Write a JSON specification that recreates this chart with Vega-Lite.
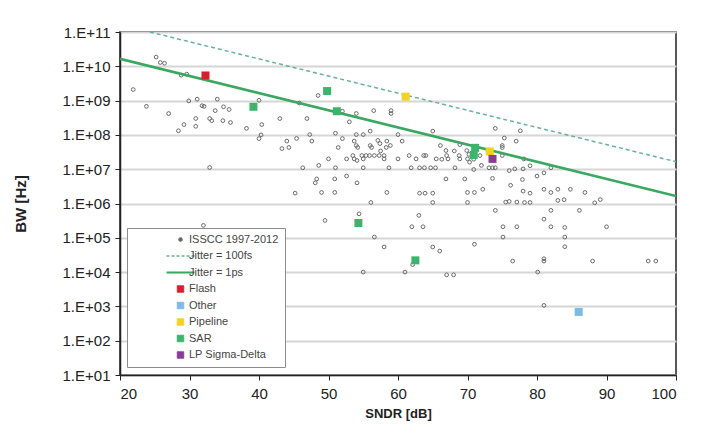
{
  "$schema": "https://vega.github.io/schema/vega-lite/v6.json",
  "width": 556,
  "height": 343,
  "autosize": {"type": "none"},
  "padding": {"left": 120, "top": 32, "right": 32, "bottom": 56},
  "background": "#ffffff",
  "config": {
    "font": "Liberation Sans",
    "view": {"stroke": "#222222", "strokeWidth": 1.5},
    "axis": {"labelFont": "Liberation Sans", "titleFont": "Liberation Sans", "labelColor": "#222222", "titleColor": "#222222", "domainColor": "#222222", "tickColor": "#222222", "domainWidth": 1.5}
  },
  "data": {"values": [
    {"x": 25.2, "y": 1.86e10, "s": "ISSCC 1997-2012"},
    {"x": 25.8, "y": 1.29e10, "s": "ISSCC 1997-2012"},
    {"x": 26.4, "y": 1.23e10, "s": "ISSCC 1997-2012"},
    {"x": 28.8, "y": 5.5e9, "s": "ISSCC 1997-2012"},
    {"x": 29.6, "y": 5.9e9, "s": "ISSCC 1997-2012"},
    {"x": 21.9, "y": 2.1e9, "s": "ISSCC 1997-2012"},
    {"x": 23.8, "y": 6.8e8, "s": "ISSCC 1997-2012"},
    {"x": 27.0, "y": 4.2e8, "s": "ISSCC 1997-2012"},
    {"x": 28.4, "y": 1.32e8, "s": "ISSCC 1997-2012"},
    {"x": 29.2, "y": 2.0e8, "s": "ISSCC 1997-2012"},
    {"x": 29.9, "y": 9.8e8, "s": "ISSCC 1997-2012"},
    {"x": 31.1, "y": 1.1e9, "s": "ISSCC 1997-2012"},
    {"x": 31.8, "y": 7.1e8, "s": "ISSCC 1997-2012"},
    {"x": 32.1, "y": 6.8e8, "s": "ISSCC 1997-2012"},
    {"x": 30.9, "y": 3.0e8, "s": "ISSCC 1997-2012"},
    {"x": 30.9, "y": 1.78e8, "s": "ISSCC 1997-2012"},
    {"x": 32.9, "y": 3.0e8, "s": "ISSCC 1997-2012"},
    {"x": 33.2, "y": 2.6e8, "s": "ISSCC 1997-2012"},
    {"x": 33.7, "y": 5.1e8, "s": "ISSCC 1997-2012"},
    {"x": 34.0, "y": 1.1e9, "s": "ISSCC 1997-2012"},
    {"x": 34.9, "y": 6.6e8, "s": "ISSCC 1997-2012"},
    {"x": 35.7, "y": 5.5e8, "s": "ISSCC 1997-2012"},
    {"x": 34.8, "y": 2.6e8, "s": "ISSCC 1997-2012"},
    {"x": 35.9, "y": 2.3e8, "s": "ISSCC 1997-2012"},
    {"x": 38.2, "y": 1.55e8, "s": "ISSCC 1997-2012"},
    {"x": 40.0, "y": 1.02e9, "s": "ISSCC 1997-2012"},
    {"x": 40.4, "y": 2.0e8, "s": "ISSCC 1997-2012"},
    {"x": 40.3, "y": 1.0e8, "s": "ISSCC 1997-2012"},
    {"x": 40.0, "y": 7.8e7, "s": "ISSCC 1997-2012"},
    {"x": 43.0, "y": 3.0e8, "s": "ISSCC 1997-2012"},
    {"x": 44.0, "y": 6.6e7, "s": "ISSCC 1997-2012"},
    {"x": 43.3, "y": 4.0e7, "s": "ISSCC 1997-2012"},
    {"x": 44.3, "y": 4.3e7, "s": "ISSCC 1997-2012"},
    {"x": 45.4, "y": 7.9e7, "s": "ISSCC 1997-2012"},
    {"x": 46.9, "y": 3.0e8, "s": "ISSCC 1997-2012"},
    {"x": 45.8, "y": 8.5e8, "s": "ISSCC 1997-2012"},
    {"x": 32.9, "y": 1.12e7, "s": "ISSCC 1997-2012"},
    {"x": 46.3, "y": 1.1e7, "s": "ISSCC 1997-2012"},
    {"x": 45.2, "y": 2.0e6, "s": "ISSCC 1997-2012"},
    {"x": 48.5, "y": 1.41e9, "s": "ISSCC 1997-2012"},
    {"x": 52.0, "y": 4.9e8, "s": "ISSCC 1997-2012"},
    {"x": 54.0, "y": 4.2e8, "s": "ISSCC 1997-2012"},
    {"x": 56.5, "y": 5.1e8, "s": "ISSCC 1997-2012"},
    {"x": 59.0, "y": 5.1e8, "s": "ISSCC 1997-2012"},
    {"x": 59.0, "y": 4.2e8, "s": "ISSCC 1997-2012"},
    {"x": 53.0, "y": 2.4e8, "s": "ISSCC 1997-2012"},
    {"x": 47.3, "y": 1.02e8, "s": "ISSCC 1997-2012"},
    {"x": 47.6, "y": 6.6e7, "s": "ISSCC 1997-2012"},
    {"x": 51.0, "y": 1.12e8, "s": "ISSCC 1997-2012"},
    {"x": 52.0, "y": 7.8e7, "s": "ISSCC 1997-2012"},
    {"x": 54.0, "y": 1.02e8, "s": "ISSCC 1997-2012"},
    {"x": 55.0, "y": 1.02e8, "s": "ISSCC 1997-2012"},
    {"x": 56.0, "y": 1.29e8, "s": "ISSCC 1997-2012"},
    {"x": 53.7, "y": 6.6e7, "s": "ISSCC 1997-2012"},
    {"x": 54.0, "y": 4.9e7, "s": "ISSCC 1997-2012"},
    {"x": 54.2, "y": 4.3e7, "s": "ISSCC 1997-2012"},
    {"x": 56.0, "y": 4.9e7, "s": "ISSCC 1997-2012"},
    {"x": 56.2, "y": 4.3e7, "s": "ISSCC 1997-2012"},
    {"x": 57.1, "y": 6.9e7, "s": "ISSCC 1997-2012"},
    {"x": 57.4, "y": 5.6e7, "s": "ISSCC 1997-2012"},
    {"x": 58.4, "y": 6.6e7, "s": "ISSCC 1997-2012"},
    {"x": 58.9, "y": 4.9e7, "s": "ISSCC 1997-2012"},
    {"x": 57.5, "y": 3.4e7, "s": "ISSCC 1997-2012"},
    {"x": 58.3, "y": 4.3e7, "s": "ISSCC 1997-2012"},
    {"x": 60.0, "y": 1.02e8, "s": "ISSCC 1997-2012"},
    {"x": 60.6, "y": 6.6e7, "s": "ISSCC 1997-2012"},
    {"x": 65.0, "y": 1.29e8, "s": "ISSCC 1997-2012"},
    {"x": 51.4, "y": 4.3e7, "s": "ISSCC 1997-2012"},
    {"x": 50.0, "y": 2.0e7, "s": "ISSCC 1997-2012"},
    {"x": 52.6, "y": 2.0e7, "s": "ISSCC 1997-2012"},
    {"x": 53.5, "y": 2.5e7, "s": "ISSCC 1997-2012"},
    {"x": 53.7, "y": 2.0e7, "s": "ISSCC 1997-2012"},
    {"x": 54.1, "y": 1.8e7, "s": "ISSCC 1997-2012"},
    {"x": 54.8, "y": 2.5e7, "s": "ISSCC 1997-2012"},
    {"x": 55.0, "y": 2.0e7, "s": "ISSCC 1997-2012"},
    {"x": 55.4, "y": 2.5e7, "s": "ISSCC 1997-2012"},
    {"x": 55.9, "y": 2.5e7, "s": "ISSCC 1997-2012"},
    {"x": 56.6, "y": 2.5e7, "s": "ISSCC 1997-2012"},
    {"x": 57.3, "y": 2.5e7, "s": "ISSCC 1997-2012"},
    {"x": 58.0, "y": 2.5e7, "s": "ISSCC 1997-2012"},
    {"x": 58.0, "y": 2.0e7, "s": "ISSCC 1997-2012"},
    {"x": 60.0, "y": 2.0e7, "s": "ISSCC 1997-2012"},
    {"x": 48.6, "y": 1.29e7, "s": "ISSCC 1997-2012"},
    {"x": 51.0, "y": 1.1e7, "s": "ISSCC 1997-2012"},
    {"x": 55.0, "y": 1.1e7, "s": "ISSCC 1997-2012"},
    {"x": 58.7, "y": 1.1e7, "s": "ISSCC 1997-2012"},
    {"x": 61.6, "y": 2.5e7, "s": "ISSCC 1997-2012"},
    {"x": 61.9, "y": 1.1e7, "s": "ISSCC 1997-2012"},
    {"x": 62.6, "y": 2.0e7, "s": "ISSCC 1997-2012"},
    {"x": 63.1, "y": 1.1e7, "s": "ISSCC 1997-2012"},
    {"x": 63.8, "y": 1.1e7, "s": "ISSCC 1997-2012"},
    {"x": 63.7, "y": 2.5e7, "s": "ISSCC 1997-2012"},
    {"x": 64.0, "y": 2.5e7, "s": "ISSCC 1997-2012"},
    {"x": 64.7, "y": 1.1e7, "s": "ISSCC 1997-2012"},
    {"x": 65.4, "y": 1.1e7, "s": "ISSCC 1997-2012"},
    {"x": 65.5, "y": 2.0e7, "s": "ISSCC 1997-2012"},
    {"x": 66.1, "y": 4.9e7, "s": "ISSCC 1997-2012"},
    {"x": 66.9, "y": 3.5e7, "s": "ISSCC 1997-2012"},
    {"x": 67.0, "y": 2.5e7, "s": "ISSCC 1997-2012"},
    {"x": 67.2, "y": 2.0e7, "s": "ISSCC 1997-2012"},
    {"x": 66.3, "y": 1.95e7, "s": "ISSCC 1997-2012"},
    {"x": 68.1, "y": 3.4e7, "s": "ISSCC 1997-2012"},
    {"x": 68.8, "y": 2.5e7, "s": "ISSCC 1997-2012"},
    {"x": 68.9, "y": 2.0e7, "s": "ISSCC 1997-2012"},
    {"x": 68.9, "y": 5.2e7, "s": "ISSCC 1997-2012"},
    {"x": 69.9, "y": 3.5e7, "s": "ISSCC 1997-2012"},
    {"x": 70.0, "y": 2.0e7, "s": "ISSCC 1997-2012"},
    {"x": 70.2, "y": 2.7e7, "s": "ISSCC 1997-2012"},
    {"x": 70.9, "y": 1.95e7, "s": "ISSCC 1997-2012"},
    {"x": 68.2, "y": 1.1e7, "s": "ISSCC 1997-2012"},
    {"x": 72.0, "y": 1.29e7, "s": "ISSCC 1997-2012"},
    {"x": 71.8, "y": 2.5e7, "s": "ISSCC 1997-2012"},
    {"x": 70.3, "y": 1.6e7, "s": "ISSCC 1997-2012"},
    {"x": 70.9, "y": 9.8e6, "s": "ISSCC 1997-2012"},
    {"x": 48.3, "y": 5.2e6, "s": "ISSCC 1997-2012"},
    {"x": 48.1, "y": 4.0e6, "s": "ISSCC 1997-2012"},
    {"x": 50.9, "y": 5.2e6, "s": "ISSCC 1997-2012"},
    {"x": 52.6, "y": 6.3e6, "s": "ISSCC 1997-2012"},
    {"x": 54.1, "y": 4.0e6, "s": "ISSCC 1997-2012"},
    {"x": 49.0, "y": 2.1e6, "s": "ISSCC 1997-2012"},
    {"x": 50.9, "y": 2.1e6, "s": "ISSCC 1997-2012"},
    {"x": 58.4, "y": 2.1e6, "s": "ISSCC 1997-2012"},
    {"x": 63.1, "y": 2.0e6, "s": "ISSCC 1997-2012"},
    {"x": 63.9, "y": 2.0e6, "s": "ISSCC 1997-2012"},
    {"x": 65.0, "y": 2.0e6, "s": "ISSCC 1997-2012"},
    {"x": 66.9, "y": 5.2e6, "s": "ISSCC 1997-2012"},
    {"x": 69.6, "y": 5.2e6, "s": "ISSCC 1997-2012"},
    {"x": 70.0, "y": 2.1e6, "s": "ISSCC 1997-2012"},
    {"x": 71.0, "y": 2.1e6, "s": "ISSCC 1997-2012"},
    {"x": 72.2, "y": 2.6e6, "s": "ISSCC 1997-2012"},
    {"x": 74.0, "y": 1.55e8, "s": "ISSCC 1997-2012"},
    {"x": 77.6, "y": 1.32e8, "s": "ISSCC 1997-2012"},
    {"x": 75.3, "y": 8.1e7, "s": "ISSCC 1997-2012"},
    {"x": 77.0, "y": 6.6e7, "s": "ISSCC 1997-2012"},
    {"x": 75.0, "y": 4.9e7, "s": "ISSCC 1997-2012"},
    {"x": 75.0, "y": 4.3e7, "s": "ISSCC 1997-2012"},
    {"x": 75.0, "y": 2.5e7, "s": "ISSCC 1997-2012"},
    {"x": 78.1, "y": 2.0e7, "s": "ISSCC 1997-2012"},
    {"x": 73.1, "y": 1.1e7, "s": "ISSCC 1997-2012"},
    {"x": 73.6, "y": 1.1e7, "s": "ISSCC 1997-2012"},
    {"x": 74.0, "y": 1.1e7, "s": "ISSCC 1997-2012"},
    {"x": 76.0, "y": 9.1e6, "s": "ISSCC 1997-2012"},
    {"x": 76.8, "y": 1.02e7, "s": "ISSCC 1997-2012"},
    {"x": 78.0, "y": 1.02e7, "s": "ISSCC 1997-2012"},
    {"x": 79.0, "y": 1.26e7, "s": "ISSCC 1997-2012"},
    {"x": 82.0, "y": 1.1e7, "s": "ISSCC 1997-2012"},
    {"x": 73.6, "y": 5.4e6, "s": "ISSCC 1997-2012"},
    {"x": 77.9, "y": 5.0e6, "s": "ISSCC 1997-2012"},
    {"x": 80.0, "y": 6.3e6, "s": "ISSCC 1997-2012"},
    {"x": 81.0, "y": 7.8e6, "s": "ISSCC 1997-2012"},
    {"x": 76.2, "y": 3.4e6, "s": "ISSCC 1997-2012"},
    {"x": 78.0, "y": 2.3e6, "s": "ISSCC 1997-2012"},
    {"x": 79.0, "y": 2.0e6, "s": "ISSCC 1997-2012"},
    {"x": 81.0, "y": 2.6e6, "s": "ISSCC 1997-2012"},
    {"x": 82.0, "y": 2.1e6, "s": "ISSCC 1997-2012"},
    {"x": 83.0, "y": 2.6e6, "s": "ISSCC 1997-2012"},
    {"x": 84.8, "y": 2.6e6, "s": "ISSCC 1997-2012"},
    {"x": 86.9, "y": 2.1e6, "s": "ISSCC 1997-2012"},
    {"x": 89.1, "y": 1.3e6, "s": "ISSCC 1997-2012"},
    {"x": 75.5, "y": 1.1e6, "s": "ISSCC 1997-2012"},
    {"x": 76.0, "y": 1.15e6, "s": "ISSCC 1997-2012"},
    {"x": 77.1, "y": 1.1e6, "s": "ISSCC 1997-2012"},
    {"x": 78.2, "y": 1.07e6, "s": "ISSCC 1997-2012"},
    {"x": 79.0, "y": 1.07e6, "s": "ISSCC 1997-2012"},
    {"x": 83.0, "y": 1.23e6, "s": "ISSCC 1997-2012"},
    {"x": 83.9, "y": 1.29e6, "s": "ISSCC 1997-2012"},
    {"x": 88.3, "y": 1.05e6, "s": "ISSCC 1997-2012"},
    {"x": 74.0, "y": 6.3e5, "s": "ISSCC 1997-2012"},
    {"x": 82.0, "y": 6.3e5, "s": "ISSCC 1997-2012"},
    {"x": 86.1, "y": 6.3e5, "s": "ISSCC 1997-2012"},
    {"x": 81.0, "y": 3.5e5, "s": "ISSCC 1997-2012"},
    {"x": 75.1, "y": 2.1e5, "s": "ISSCC 1997-2012"},
    {"x": 77.1, "y": 2.1e5, "s": "ISSCC 1997-2012"},
    {"x": 82.0, "y": 2.1e5, "s": "ISSCC 1997-2012"},
    {"x": 84.0, "y": 2.0e5, "s": "ISSCC 1997-2012"},
    {"x": 90.0, "y": 2.1e5, "s": "ISSCC 1997-2012"},
    {"x": 75.1, "y": 1.05e5, "s": "ISSCC 1997-2012"},
    {"x": 84.0, "y": 1.05e5, "s": "ISSCC 1997-2012"},
    {"x": 84.0, "y": 5.5e4, "s": "ISSCC 1997-2012"},
    {"x": 76.5, "y": 2.1e4, "s": "ISSCC 1997-2012"},
    {"x": 81.0, "y": 2.45e4, "s": "ISSCC 1997-2012"},
    {"x": 81.0, "y": 2.1e4, "s": "ISSCC 1997-2012"},
    {"x": 88.0, "y": 2.1e4, "s": "ISSCC 1997-2012"},
    {"x": 96.0, "y": 2.1e4, "s": "ISSCC 1997-2012"},
    {"x": 97.1, "y": 2.1e4, "s": "ISSCC 1997-2012"},
    {"x": 80.1, "y": 1.0e4, "s": "ISSCC 1997-2012"},
    {"x": 81.0, "y": 1.07e3, "s": "ISSCC 1997-2012"},
    {"x": 56.1, "y": 1.07e6, "s": "ISSCC 1997-2012"},
    {"x": 65.0, "y": 1.07e6, "s": "ISSCC 1997-2012"},
    {"x": 70.0, "y": 1.07e6, "s": "ISSCC 1997-2012"},
    {"x": 54.4, "y": 5.0e5, "s": "ISSCC 1997-2012"},
    {"x": 49.5, "y": 3.2e5, "s": "ISSCC 1997-2012"},
    {"x": 63.0, "y": 4.5e5, "s": "ISSCC 1997-2012"},
    {"x": 62.0, "y": 2.1e5, "s": "ISSCC 1997-2012"},
    {"x": 63.6, "y": 2.1e5, "s": "ISSCC 1997-2012"},
    {"x": 56.6, "y": 1.05e5, "s": "ISSCC 1997-2012"},
    {"x": 58.0, "y": 5.4e4, "s": "ISSCC 1997-2012"},
    {"x": 65.0, "y": 5.4e4, "s": "ISSCC 1997-2012"},
    {"x": 66.0, "y": 4.1e4, "s": "ISSCC 1997-2012"},
    {"x": 71.0, "y": 6.5e4, "s": "ISSCC 1997-2012"},
    {"x": 62.1, "y": 1.66e4, "s": "ISSCC 1997-2012"},
    {"x": 55.0, "y": 1.0e4, "s": "ISSCC 1997-2012"},
    {"x": 61.0, "y": 1.0e4, "s": "ISSCC 1997-2012"},
    {"x": 67.0, "y": 8.3e3, "s": "ISSCC 1997-2012"},
    {"x": 68.0, "y": 8.3e3, "s": "ISSCC 1997-2012"},
    {"x": 32.0, "y": 2.3e5, "s": "ISSCC 1997-2012"},
    {"x": 20, "y": 1.65e10, "s": "Jitter = 1ps"},
    {"x": 100, "y": 1.65e6, "s": "Jitter = 1ps"},
    {"x": 24.3, "y": 1.0e11, "s": "Jitter = 100fs"},
    {"x": 100, "y": 1.65e7, "s": "Jitter = 100fs"},
    {"x": 32.3, "y": 5.4e9, "s": "Flash"},
    {"x": 86.0, "y": 690, "s": "Other"},
    {"x": 61.1, "y": 1.3e9, "s": "Pipeline"},
    {"x": 73.2, "y": 3.3e7, "s": "Pipeline"},
    {"x": 39.2, "y": 6.6e8, "s": "SAR"},
    {"x": 49.8, "y": 1.9e9, "s": "SAR"},
    {"x": 51.2, "y": 4.9e8, "s": "SAR"},
    {"x": 71.1, "y": 4.2e7, "s": "SAR"},
    {"x": 70.9, "y": 2.6e7, "s": "SAR"},
    {"x": 54.3, "y": 2.7e5, "s": "SAR"},
    {"x": 62.5, "y": 2.2e4, "s": "SAR"},
    {"x": 73.6, "y": 2.0e7, "s": "LP Sigma-Delta"}
  ]},
  "encoding": {
    "x": {"field": "x", "type": "quantitative", "scale": {"domain": [20, 100]},
      "axis": {"values": [20, 30, 40, 50, 60, 70, 80, 90, 100], "grid": false, "title": "SNDR [dB]", "labelFontSize": 15, "labelPadding": 6, "tickSize": 5, "titleFontSize": 13, "titleFontWeight": "bold", "titlePadding": 6}},
    "y": {"field": "y", "type": "quantitative", "scale": {"type": "log", "domain": [10, 1e11]},
      "axis": {"values": [10, 100, 1000, 10000, 100000, 1000000, 10000000, 100000000, 1000000000, 10000000000, 100000000000],
        "labelExpr": "'1.E+' + (round(log(datum.value)/LN10) < 10 ? '0' : '') + round(log(datum.value)/LN10)",
        "grid": true, "gridColor": "#d6d6d6", "gridWidth": 2, "labelFontSize": 15, "labelPadding": 5, "tickSize": 5,
        "title": "BW [Hz]", "titleFontSize": 15, "titleFontWeight": "bold", "titlePadding": 34}},
    "color": {"field": "s", "type": "nominal",
      "scale": {"domain": ["ISSCC 1997-2012", "Jitter = 100fs", "Jitter = 1ps", "Flash", "Other", "Pipeline", "SAR", "LP Sigma-Delta"],
        "range": ["#6a6a6a", "#66b396", "#3aa860", "#d7202f", "#7cbbe6", "#f4d21f", "#3cb46c", "#8a3b97"]},
      "legend": {"title": null, "orient": "none", "legendX": 7, "legendY": 196, "direction": "vertical",
        "fillColor": "#ffffff", "strokeColor": "#8c8c8c", "padding": 6, "symbolSize": 100, "symbolOffset": 42,
        "labelFont": "Liberation Sans", "labelFontSize": 11, "labelColor": "#444444", "labelOffset": 3, "rowPadding": 4.5,
        "encode": {"symbols": {"update": {
          "shape": {"signal": "datum.label == 'ISSCC 1997-2012' ? 'circle' : (datum.label == 'Jitter = 100fs' || datum.label == 'Jitter = 1ps') ? 'stroke' : 'square'"},
          "size": {"signal": "datum.label == 'ISSCC 1997-2012' ? 14 : (datum.label == 'Jitter = 100fs' || datum.label == 'Jitter = 1ps') ? 784 : 42"},
          "fill": {"signal": "datum.label == 'Flash' ? '#d7202f' : datum.label == 'Other' ? '#7cbbe6' : datum.label == 'Pipeline' ? '#f4d21f' : datum.label == 'SAR' ? '#3cb46c' : datum.label == 'LP Sigma-Delta' ? '#8a3b97' : 'transparent'"},
          "stroke": {"signal": "datum.label == 'ISSCC 1997-2012' ? '#6a6a6a' : datum.label == 'Jitter = 100fs' ? '#66b396' : datum.label == 'Jitter = 1ps' ? '#3aa860' : 'transparent'"},
          "strokeDash": {"signal": "datum.label == 'Jitter = 100fs' ? [3, 2] : [1, 0]"},
          "strokeWidth": {"signal": "datum.label == 'Jitter = 1ps' ? 2.2 : datum.label == 'Jitter = 100fs' ? 1.3 : 1"}
        }}}}}
  },
  "layer": [
    {"transform": [{"filter": "datum.s === 'ISSCC 1997-2012'"}],
     "mark": {"type": "point", "shape": "circle", "filled": false, "size": 14, "strokeWidth": 1, "opacity": 1}},
    {"transform": [{"filter": "datum.s === 'Jitter = 100fs'"}],
     "mark": {"type": "line", "strokeWidth": 1.5, "strokeDash": [4, 3], "clip": true}},
    {"transform": [{"filter": "datum.s === 'Jitter = 1ps'"}],
     "mark": {"type": "line", "strokeWidth": 2.6, "clip": true}},
    {"transform": [{"filter": "datum.s !== 'ISSCC 1997-2012' && indexof(datum.s, 'Jitter') !== 0"}],
     "mark": {"type": "square", "size": 64, "opacity": 1, "filled": true}}
  ]
}
